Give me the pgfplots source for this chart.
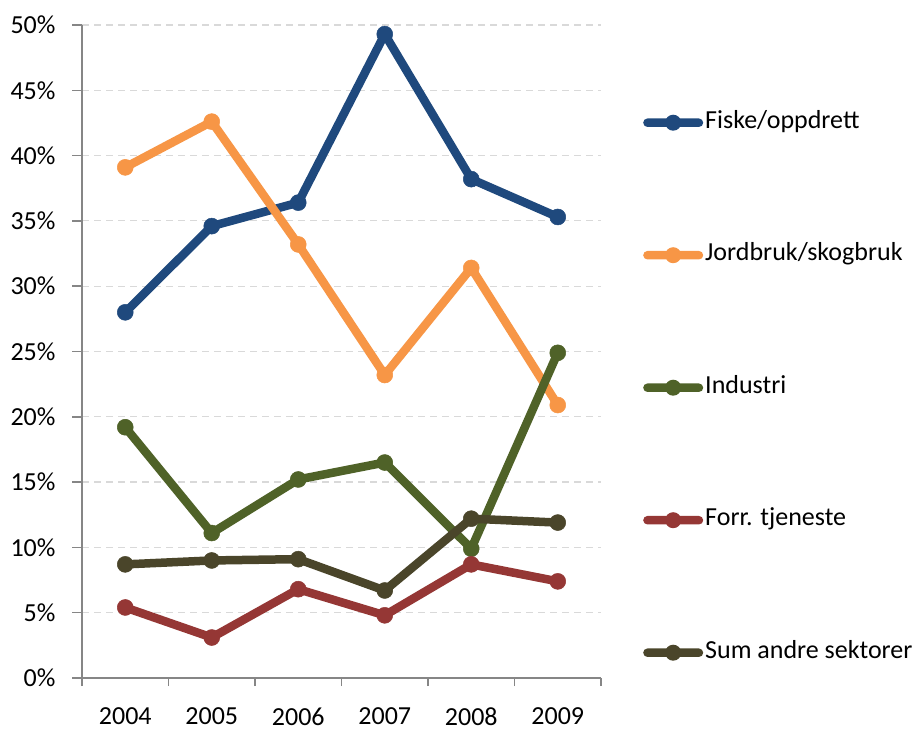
\documentclass[border=0pt]{standalone}
\usepackage{fontspec}
\setmainfont{Carlito}
\usepackage{pgfplots}
\pgfplotsset{compat=1.18}

\definecolor{fiske}{HTML}{1F497D}
\definecolor{jord}{HTML}{F79646}
\definecolor{industri}{HTML}{4F6228}
\definecolor{forr}{HTML}{953735}
\definecolor{sum}{HTML}{4A452A}
\definecolor{axisgray}{HTML}{868686}
\definecolor{gridgray}{HTML}{D9D9D9}

\begin{document}
\begin{tikzpicture}
\path[use as bounding box] (0,0) rectangle (918bp,731bp);
\begin{axis}[
  at={(82bp,53bp)}, anchor=south west,
  scale only axis, width=519bp, height=653bp,
  xmin=-0.5, xmax=5.5, ymin=0, ymax=50,
  axis x line*=bottom, axis y line*=left,
  axis line style={axisgray, line width=1.5bp},
  xtick={0,...,5},
  xticklabels={2004,2005,2006,2007,2008,2009},
  major x tick style={draw=none},
  minor xtick={-0.5,0.5,...,5.5},
  minor x tick style={axisgray, line width=1.5bp},
  minor tick length=8bp,
  ytick={0,5,...,50},
  y tick style={axisgray, line width=1.5bp},
  major tick length=10bp,
  tick align=outside,
  /pgf/number format/assume math mode=true,
  yticklabel={\pgfmathprintnumber{\tick}\%},
  ticklabel style={font=\fontsize{26bp}{30bp}\selectfont, text=black},
  xticklabel style={yshift=-16bp},
  yticklabel style={xshift=-13bp},
  ymajorgrids,
  grid style={gridgray, line width=1.2bp, dash pattern=on 7bp off 5bp},
  every axis plot/.append style={line width=8.5bp, line join=round, line cap=round,
    mark=*, mark size=8bp, mark options={solid, line width=0.5bp}},
  legend cell align=left,
  legend style={draw=none, fill=none, at={(1,1)}, anchor=north west,
    xshift=42bp, yshift=-87bp, inner sep=0pt, column sep=2bp, row sep=111.5bp,
    font=\fontsize{26bp}{30bp}\selectfont,
    nodes={inner sep=0pt, text height=16bp, text depth=5bp}},
  % legend key: a thick rounded bar with a dot in its middle
  legend image code/.code={
    \path[#1, draw=none, fill, rounded corners=4.25bp] (0bp,-4.25bp) rectangle (60bp,4.25bp);
    \path[#1, draw=none, fill] (30bp,0bp) circle (8bp);
  },
]
\addplot[fiske] coordinates {(0,28.0) (1,34.6) (2,36.4) (3,49.3) (4,38.2) (5,35.3)};
\addlegendentry{Fiske/oppdrett}
\addplot[jord] coordinates {(0,39.1) (1,42.6) (2,33.2) (3,23.2) (4,31.4) (5,20.9)};
\addlegendentry{Jordbruk/skogbruk}
\addplot[industri] coordinates {(0,19.2) (1,11.1) (2,15.2) (3,16.5) (4,9.9) (5,24.9)};
\addlegendentry{Industri}
\addplot[forr] coordinates {(0,5.4) (1,3.1) (2,6.8) (3,4.8) (4,8.7) (5,7.4)};
\addlegendentry{Forr. tjeneste}
\addplot[sum] coordinates {(0,8.7) (1,9.0) (2,9.1) (3,6.7) (4,12.2) (5,11.9)};
\addlegendentry{Sum andre sektorer}
\end{axis}
\end{tikzpicture}
\end{document}
